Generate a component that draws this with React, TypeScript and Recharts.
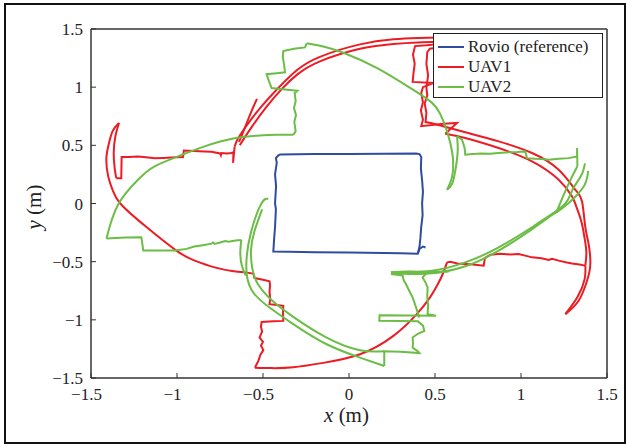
import React from "react";
import { ScatterChart, Scatter, XAxis, YAxis, Legend } from "recharts";

type Pair = [number, number];

const ticks = [-1.5, -1, -0.5, 0, 0.5, 1, 1.5];

// Rovio (reference) square
const rovioPath: Pair[] = [
  [-0.41, 0.415], [-0.4, 0.422], [-0.2, 0.425], [0.0, 0.426], [0.2, 0.428], [0.39, 0.43],
  [0.41, 0.425], [0.42, 0.4], [0.418, 0.3], [0.425, 0.2], [0.43, 0.1], [0.425, 0.0],
  [0.428, -0.1], [0.42, -0.2], [0.415, -0.3], [0.41, -0.37], [0.4, -0.432], [0.3, -0.428],
  [0.1, -0.424], [0.0, -0.422], [-0.2, -0.418], [-0.35, -0.414], [-0.44, -0.412],
  [-0.435, -0.3], [-0.43, -0.2], [-0.425, -0.05], [-0.43, 0.0], [-0.424, 0.15],
  [-0.43, 0.25], [-0.42, 0.35], [-0.425, 0.39], [-0.41, 0.415],
];
const rovioTail: Pair[] = [[0.4, -0.432], [0.41, -0.39], [0.43, -0.37], [0.445, -0.378]];

// UAV1
const uav1TopA: Pair[] = [
  [0.52, 1.427], [0.4, 1.422], [0.258, 1.411], [0.064, 1.368], [-0.169, 1.261],
  [-0.3, 1.15], [-0.4, 1.01], [-0.517, 0.82], [-0.6, 0.66], [-0.645, 0.56], [-0.665, 0.49],
];
const uav1TopB: Pair[] = [
  [0.52, 1.39], [0.4, 1.385], [0.258, 1.372], [0.064, 1.33], [-0.169, 1.222],
  [-0.3, 1.11], [-0.39, 0.985], [-0.48, 0.83], [-0.56, 0.67], [-0.61, 0.56], [-0.635, 0.5],
];
const uav1TopC: Pair[] = [[-0.535, 0.9], [-0.565, 0.8], [-0.595, 0.69], [-0.625, 0.58], [-0.64, 0.53]];
const uav1LeftJag: Pair[] = [
  [-0.665, 0.49], [-0.674, 0.35], [-0.672, 0.44], [-0.684, 0.434], [-0.71, 0.43], [-0.742, 0.434],
  [-0.745, 0.415], [-0.75, 0.43], [-0.8, 0.445], [-0.839, 0.448], [-0.9, 0.452], [-0.96, 0.455],
  [-0.965, 0.4], [-1.0, 0.398], [-1.033, 0.395], [-1.08, 0.392], [-1.13, 0.39], [-1.18, 0.398],
  [-1.227, 0.405], [-1.28, 0.4], [-1.322, 0.4], [-1.324, 0.218], [-1.353, 0.218],
];
const uav1HookIn: Pair[] = [[-1.353, 0.218], [-1.362, 0.3], [-1.368, 0.434], [-1.358, 0.58], [-1.337, 0.692]];
const uav1LeftArc: Pair[] = [
  [-1.337, 0.692], [-1.375, 0.62], [-1.4, 0.49], [-1.411, 0.377], [-1.4, 0.233], [-1.375, 0.118],
  [-1.33, 0.0], [-1.188, -0.19], [-1.004, -0.405], [-0.897, -0.491], [-0.781, -0.549],
  [-0.68, -0.58], [-0.606, -0.592],
];
const uav1BottomJag: Pair[] = [
  [-0.606, -0.592], [-0.556, -0.602], [-0.55, -0.64], [-0.5, -0.655], [-0.462, -0.668],
  [-0.459, -0.7], [-0.462, -0.76], [-0.458, -0.82], [-0.462, -0.865], [-0.42, -0.872],
  [-0.382, -0.879], [-0.384, -0.94], [-0.382, -1.009], [-0.44, -1.012], [-0.508, -1.018],
  [-0.512, -1.06], [-0.505, -1.1], [-0.52, -1.152], [-0.5, -1.19], [-0.512, -1.22],
  [-0.498, -1.26], [-0.515, -1.3], [-0.527, -1.353], [-0.54, -1.39], [-0.547, -1.411],
];
const uav1BottomArc: Pair[] = [
  [-0.547, -1.411], [-0.45, -1.415], [-0.324, -1.408], [-0.15, -1.37], [0.064, -1.296],
  [0.258, -1.138], [0.394, -0.951], [0.471, -0.807], [0.517, -0.692], [0.545, -0.606], [0.57, -0.506],
];
const uav1RightJag: Pair[] = [
  [0.57, -0.506], [0.589, -0.5], [0.63, -0.515], [0.676, -0.52], [0.72, -0.525], [0.783, -0.534],
  [0.79, -0.47], [0.822, -0.44], [0.88, -0.432], [0.94, -0.438], [0.986, -0.434], [1.03, -0.45],
  [1.064, -0.463], [1.12, -0.47], [1.161, -0.485], [1.18, -0.475], [1.219, -0.491],
  [1.26, -0.505], [1.297, -0.515], [1.34, -0.525], [1.374, -0.534],
];
const uav1RightTail: Pair[] = [[1.374, -0.534], [1.37, -0.65], [1.33, -0.8], [1.258, -0.951]];
const uav1RightA: Pair[] = [
  [1.258, -0.951], [1.335, -0.836], [1.384, -0.664], [1.403, -0.52], [1.393, -0.347],
  [1.374, -0.204], [1.355, 0.017], [1.316, 0.118], [1.219, 0.29], [1.064, 0.434],
  [0.87, 0.534], [0.676, 0.612], [0.483, 0.69],
];
const uav1RightB: Pair[] = [
  [1.374, -0.534], [1.38, -0.42], [1.37, -0.3], [1.35, -0.15], [1.32, -0.02], [1.297, 0.06],
  [1.219, 0.204], [1.064, 0.362], [0.87, 0.477], [0.676, 0.563], [0.56, 0.6],
];
const uav1CornerJagA: Pair[] = [
  [0.56, 0.6], [0.628, 0.692], [0.55, 0.685], [0.42, 0.665], [0.43, 0.72], [0.418, 0.8],
  [0.43, 0.87], [0.42, 0.95], [0.43, 1.0], [0.49, 1.035], [0.37, 1.045], [0.375, 1.12],
  [0.382, 1.2], [0.372, 1.28], [0.384, 1.353], [0.45, 1.36], [0.52, 1.37],
];
const uav1CornerJagB: Pair[] = [
  [0.483, 0.69], [0.445, 0.7], [0.45, 0.78], [0.44, 0.86], [0.455, 0.93], [0.45, 1.0],
  [0.46, 1.1], [0.45, 1.2], [0.455, 1.3], [0.47, 1.33], [0.52, 1.34],
];

// UAV2
const uav2UpperArc: Pair[] = [
  [-1.41, -0.3], [-1.343, -0.011], [-1.227, 0.204], [-1.13, 0.319], [-0.994, 0.405],
  [-0.839, 0.491], [-0.665, 0.56], [-0.52, 0.585], [-0.42, 0.59], [-0.324, 0.59],
];
const uav2TopJag: Pair[] = [
  [-0.324, 0.59], [-0.31, 0.62], [-0.318, 0.7], [-0.308, 0.76], [-0.32, 0.82], [-0.31, 0.88],
  [-0.316, 0.95], [-0.3, 0.97], [-0.4, 0.985], [-0.45, 0.992], [-0.465, 1.05], [-0.479, 1.112],
  [-0.42, 1.12], [-0.372, 1.128], [-0.378, 1.2], [-0.385, 1.26], [-0.382, 1.31], [-0.32, 1.33],
  [-0.256, 1.342], [-0.246, 1.377],
];
const uav2TopArc: Pair[] = [
  [-0.246, 1.377], [-0.15, 1.35], [-0.033, 1.296], [0.161, 1.166], [0.355, 0.994],
  [0.483, 0.865], [0.53, 0.77], [0.56, 0.664], [0.589, 0.52], [0.605, 0.377], [0.6, 0.233], [0.57, 0.118],
];
const uav2Hook: Pair[] = [[0.57, 0.118], [0.6, 0.17], [0.62, 0.3], [0.632, 0.45], [0.628, 0.578]];
const uav2RightJag: Pair[] = [
  [0.628, 0.578], [0.657, 0.549], [0.672, 0.48], [0.676, 0.42], [0.72, 0.425], [0.77, 0.43],
  [0.82, 0.428], [0.87, 0.434], [0.93, 0.44], [0.98, 0.442], [1.025, 0.448], [1.035, 0.39],
  [1.08, 0.385], [1.12, 0.382], [1.161, 0.377], [1.22, 0.385], [1.277, 0.39], [1.326, 0.405],
  [1.326, 0.477], [1.328, 0.32],
];
const uav2RightShort: Pair[] = [[1.328, 0.32], [1.29, 0.21], [1.25, 0.08], [1.205, -0.08]];
const uav2RightA: Pair[] = [
  [1.372, 0.345], [1.35, 0.24], [1.3, 0.12], [1.258, 0.0], [1.16, -0.11], [1.064, -0.204],
  [0.87, -0.377], [0.676, -0.506], [0.483, -0.578], [0.35, -0.585], [0.244, -0.59],
];
const uav2RightB: Pair[] = [
  [1.391, 0.28], [1.37, 0.16], [1.31, 0.05], [1.24, -0.04], [1.15, -0.13], [1.05, -0.235],
  [0.87, -0.405], [0.676, -0.54], [0.483, -0.6], [0.35, -0.605], [0.244, -0.606],
];
const uav2BottomJagA: Pair[] = [
  [0.244, -0.59], [0.58, -0.585], [0.45, -0.6], [0.428, -0.635], [0.445, -0.68], [0.457, -0.721],
  [0.455, -0.8], [0.46, -0.88], [0.457, -0.951], [0.506, -0.965], [0.35, -0.962], [0.178, -0.96],
  [0.176, -1.009], [0.3, -1.01], [0.4, -1.012], [0.43, -1.05], [0.438, -1.095], [0.4, -1.12],
  [0.37, -1.152], [0.372, -1.2], [0.37, -1.239], [0.4, -1.27], [0.409, -1.285], [0.3, -1.275],
  [0.205, -1.27], [0.205, -1.397],
];
const uav2BottomJagB: Pair[] = [
  [0.244, -0.606], [0.312, -0.62], [0.318, -0.66], [0.331, -0.692], [0.35, -0.75], [0.37, -0.807],
  [0.38, -0.85], [0.39, -0.894], [0.4, -0.94], [0.409, -0.98],
];
const uav2LowerA: Pair[] = [
  [0.205, -1.397], [0.064, -1.325], [-0.13, -1.21], [-0.324, -1.037], [-0.483, -0.87],
  [-0.568, -0.74], [-0.597, -0.549], [-0.572, -0.261], [-0.51, -0.003], [-0.469, 0.04],
];
const uav2LowerB: Pair[] = [
  [0.205, -1.27], [0.064, -1.262], [-0.13, -1.153], [-0.324, -0.975], [-0.45, -0.83],
  [-0.53, -0.692], [-0.562, -0.56], [-0.57, -0.4], [-0.55, -0.24], [-0.505, -0.05],
];
const uav2LeftHook: Pair[] = [[-0.626, -0.313], [-0.632, -0.43], [-0.622, -0.54], [-0.6, -0.62]];
const uav2LeftJag: Pair[] = [
  [-0.626, -0.313], [-0.66, -0.318], [-0.7, -0.328], [-0.72, -0.322], [-0.75, -0.335],
  [-0.781, -0.347], [-0.79, -0.335], [-0.8, -0.345], [-0.85, -0.358], [-0.9, -0.37],
  [-0.944, -0.39], [-1.013, -0.403], [-1.1, -0.405], [-1.196, -0.405], [-1.207, -0.29],
  [-1.3, -0.292], [-1.41, -0.3],
];

const BLUE = "#2f4c9f";
const RED = "#ec1c24";
const GREEN = "#6bbd45";
const FONT = "'Liberation Serif', 'Times New Roman', serif";

// smooth = spline through the points, otherwise straight pieces
const series = [
  {
    name: "Rovio (reference)",
    color: BLUE,
    segs: [
      { data: rovioPath, smooth: false },
      { data: rovioTail, smooth: false },
    ],
  },
  {
    name: "UAV1",
    color: RED,
    segs: [
      { data: uav1TopA, smooth: true },
      { data: uav1TopB, smooth: true },
      { data: uav1TopC, smooth: true },
      { data: uav1LeftJag, smooth: false },
      { data: uav1HookIn, smooth: true },
      { data: uav1LeftArc, smooth: true },
      { data: uav1BottomJag, smooth: false },
      { data: uav1BottomArc, smooth: true },
      { data: uav1RightJag, smooth: false },
      { data: uav1RightTail, smooth: true },
      { data: uav1RightA, smooth: true },
      { data: uav1RightB, smooth: true },
      { data: uav1CornerJagA, smooth: false },
      { data: uav1CornerJagB, smooth: false },
    ],
  },
  {
    name: "UAV2",
    color: GREEN,
    segs: [
      { data: uav2UpperArc, smooth: true },
      { data: uav2TopJag, smooth: false },
      { data: uav2TopArc, smooth: true },
      { data: uav2Hook, smooth: true },
      { data: uav2RightJag, smooth: false },
      { data: uav2RightShort, smooth: true },
      { data: uav2RightA, smooth: true },
      { data: uav2RightB, smooth: true },
      { data: uav2BottomJagA, smooth: false },
      { data: uav2BottomJagB, smooth: false },
      { data: uav2LowerA, smooth: true },
      { data: uav2LowerB, smooth: true },
      { data: uav2LeftHook, smooth: true },
      { data: uav2LeftJag, smooth: false },
    ],
  },
];

const toPts = (a: Pair[]) => a.map(([x, y]) => ({ x, y }));
const fmt = (v: number) => (v < 0 ? "\u2212" : "") + Math.abs(v);
const noDot = () => <g />;

function XTick(props: any) {
  const { x, y, payload } = props;
  const v = payload.value as number;
  return (
    <text x={x} y={y} dy={12} dx={v < 0 ? -4.5 : 0} textAnchor="middle" fontFamily={FONT} fontSize={17} fill="#222">
      {fmt(v)}
    </text>
  );
}

function XLabel(props: any) {
  const { x, y, width } = props.viewBox;
  return (
    <text x={x + width / 2 - 2.5} y={y + 44} textAnchor="middle" fontFamily={FONT} fontSize={21} fill="#222">
      <tspan fontStyle="italic">x</tspan> (m)
    </text>
  );
}

function YLabel() {
  return (
    <text x={41} y={207} transform="rotate(-90 41 207)" textAnchor="middle" fontFamily={FONT} fontSize={21} fill="#222">
      <tspan fontStyle="italic">y</tspan> (m)
    </text>
  );
}

function LegendBox() {
  return (
    <div
      style={{
        width: 170,
        height: 65,
        boxSizing: "border-box",
        border: "1px solid #222",
        background: "#fff",
        paddingTop: 3,
        fontFamily: FONT,
        fontSize: 17,
        color: "#222",
      }}
    >
      {series.map((s) => (
        <div key={s.name} style={{ display: "flex", alignItems: "center", height: 20 }}>
          <svg width={30} height={20} style={{ marginLeft: 4 }}>
            <line x1={0} x2={26} y1={10} y2={10} stroke={s.color} strokeWidth={2} />
          </svg>
          <span style={{ lineHeight: "20px" }}>{s.name}</span>
        </div>
      ))}
    </div>
  );
}

export default function App() {
  const axisLine = { stroke: "#333", strokeWidth: 1.5 };
  const tickLine = { stroke: "#333" };
  return (
    <div style={{ position: "absolute", left: 0, top: 0, width: 626, height: 444, background: "#fff" }}>
      <div
        style={{
          position: "absolute",
          left: 4,
          top: 3,
          width: 622,
          height: 441,
          boxSizing: "border-box",
          border: "2.5px solid #111",
        }}
      />
      <ScatterChart width={626} height={444} margin={{ top: 0, right: 0, bottom: 0, left: 0 }}>
        <XAxis
          type="number"
          dataKey="x"
          domain={[-1.5, 1.5]}
          ticks={ticks}
          interval={0}
          allowDataOverflow
          height={66}
          axisLine={axisLine}
          tickLine={tickLine}
          tickSize={-5}
          tickMargin={15}
          tick={<XTick />}
          label={{ content: (p: any) => <XLabel {...p} /> }}
        />
        <XAxis
          xAxisId="top"
          orientation="top"
          type="number"
          domain={[-1.5, 1.5]}
          ticks={ticks}
          interval={0}
          allowDataOverflow
          height={29}
          axisLine={axisLine}
          tickLine={tickLine}
          tickSize={-5}
          tick={false}
        />
        <YAxis
          type="number"
          dataKey="y"
          domain={[-1.5, 1.5]}
          ticks={ticks}
          interval={0}
          allowDataOverflow
          width={91}
          axisLine={axisLine}
          tickLine={tickLine}
          tickSize={-5}
          tickMargin={13}
          tickFormatter={fmt}
          tick={{ fontFamily: FONT, fontSize: 17, fill: "#222" }}
          label={{ content: () => <YLabel /> }}
        />
        <YAxis
          yAxisId="right"
          orientation="right"
          type="number"
          domain={[-1.5, 1.5]}
          ticks={ticks}
          interval={0}
          allowDataOverflow
          width={19}
          axisLine={axisLine}
          tickLine={tickLine}
          tickSize={-5}
          tick={false}
        />
        {series.flatMap((s) =>
          s.segs.map((seg, i) => (
            <Scatter
              key={s.name + i}
              name={s.name}
              data={toPts(seg.data)}
              fill={s.color}
              line={{ stroke: s.color, strokeWidth: 2 }}
              lineType="joint"
              lineJointType={seg.smooth ? "natural" : "linear"}
              shape={noDot}
              legendType={i === 0 ? "line" : "none"}
              isAnimationActive={false}
            />
          ))
        )}
        <Legend
          layout="vertical"
          align="center"
          verticalAlign="middle"
          wrapperStyle={{ left: 433, top: 33, width: 170, height: 65 }}
          content={() => <LegendBox />}
        />
      </ScatterChart>
    </div>
  );
}
